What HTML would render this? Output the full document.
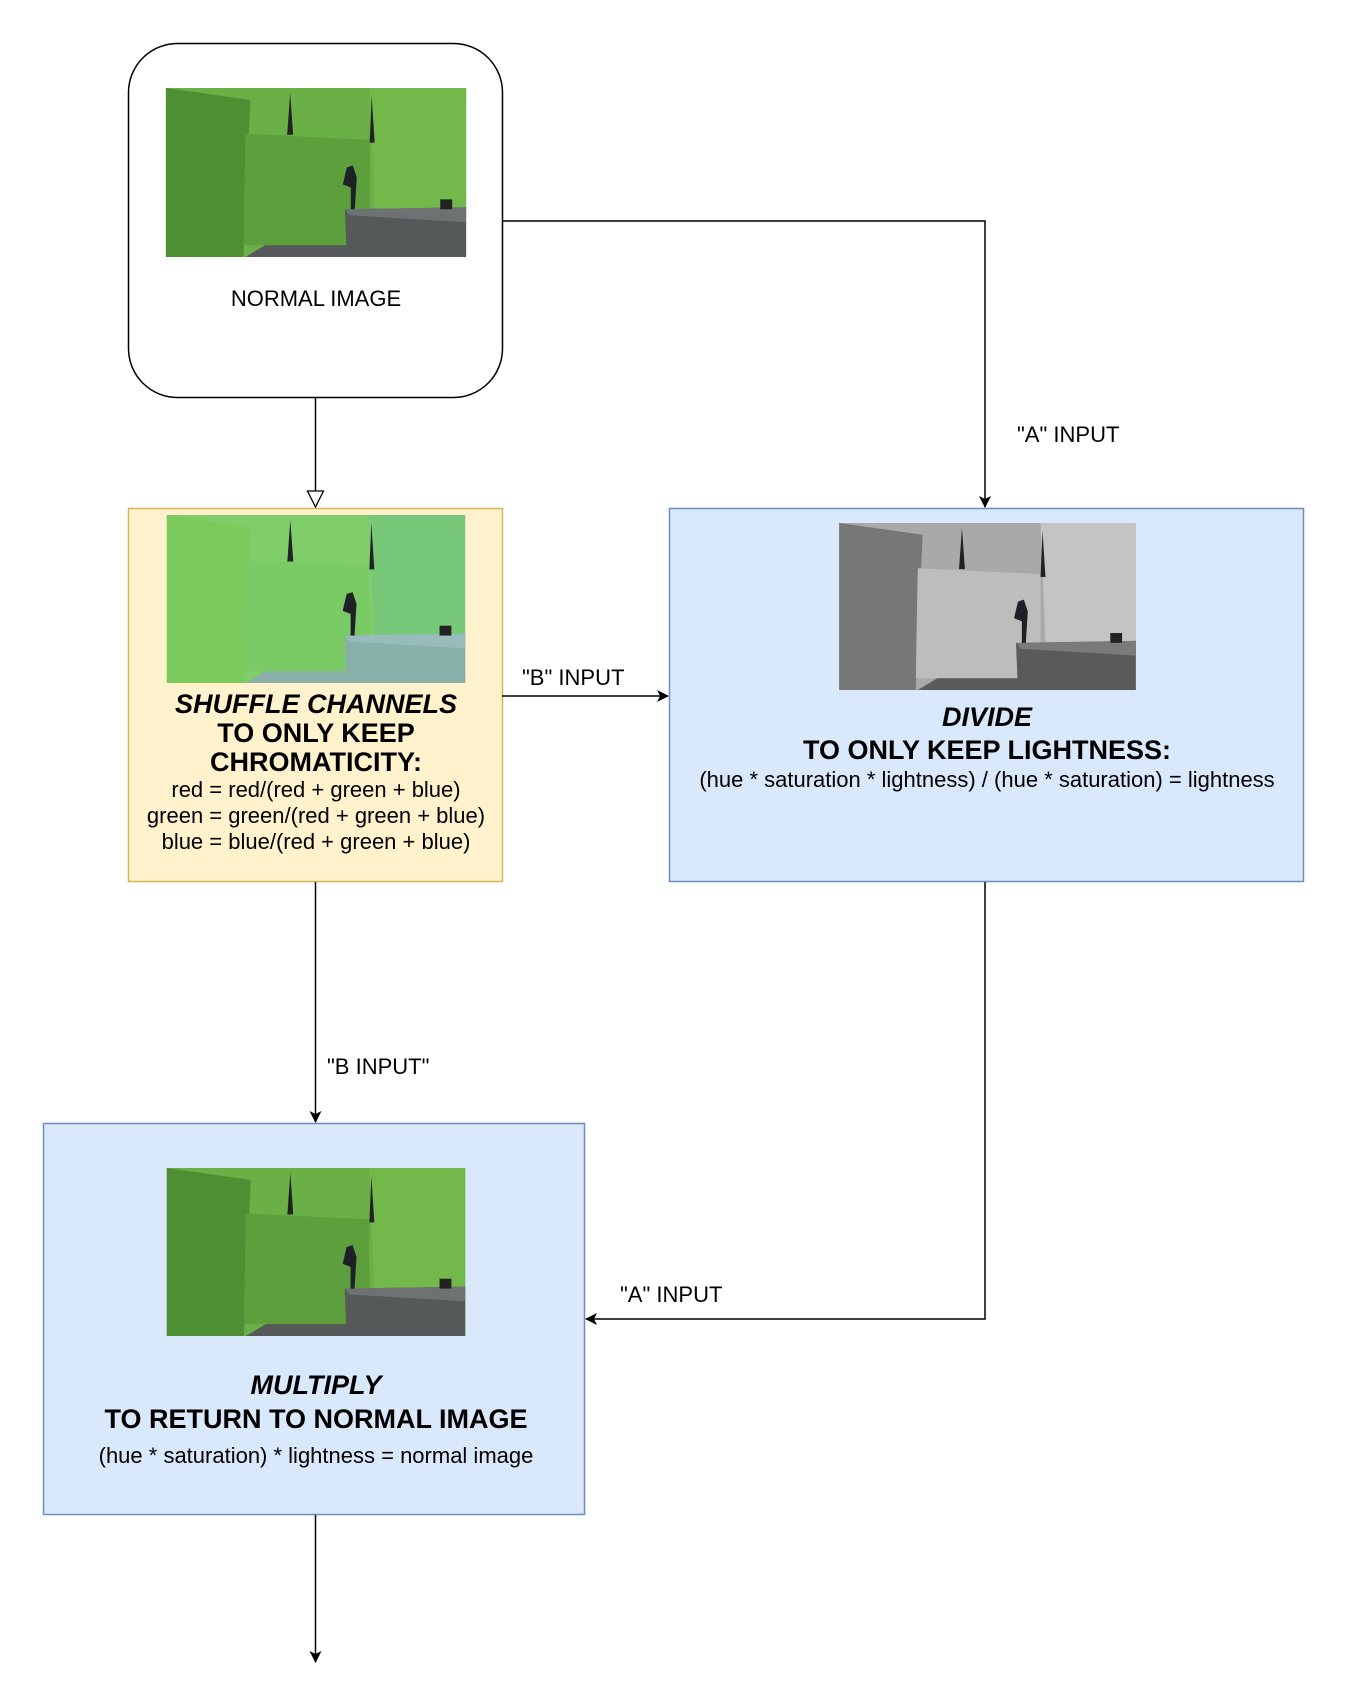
<!DOCTYPE html>
<html><head><meta charset="utf-8"><style>
html,body{margin:0;padding:0;background:#fff;}
svg{display:block;font-family:"Liberation Sans",Arial,sans-serif;}
</style></head><body>
<svg width="1346" height="1695" viewBox="0 0 1346 1695" xmlns="http://www.w3.org/2000/svg">
<defs>
<marker id="ar" markerWidth="14" markerHeight="14" refX="12" refY="7" orient="auto" markerUnits="userSpaceOnUse">
<path d="M1,1 L13,7 L1,13 L4,7 Z" fill="#000"/></marker>
<marker id="hol" markerWidth="20" markerHeight="20" refX="17" refY="9" orient="auto" markerUnits="userSpaceOnUse">
<path d="M1,1 L17,9 L1,17 Z" fill="#fff" stroke="#000" stroke-width="1.3"/></marker>
<symbol id="photo" viewBox="0 0 302 170">
<rect width="302" height="170" style="fill:var(--bg)"/>
<path d="M0,0 L85,12 L78,170 L0,170 Z" style="fill:var(--l)"/>
<path d="M80,46 L205,52 L205,158 L78,158 Z" style="fill:var(--c)"/>
<path d="M205,0 L302,0 L302,122 L210,122 Z" style="fill:var(--r)"/>
<path d="M122,47 L125,5 L128,47 Z" fill="#222"/>
<path d="M205,55 L207,8 L210,55 Z" fill="#222"/>
<path d="M180,122 L302,120 L302,170 L182,170 Z" style="fill:var(--ledge)"/>
<path d="M180,122 L302,120 L302,135 L185,128 Z" style="fill:var(--top)"/>
<path d="M100,158 L190,158 L188,170 L80,170 Z" style="fill:var(--ledge)"/>
<path d="M182,80 L188,78 L192,90 L190,122 L186,122 L186,100 L178,97 Z" fill="#1e2228"/>
<rect x="276" y="112" width="12" height="10" fill="#222"/>
</symbol>
</defs>

<rect x="128.5" y="43.5" width="374" height="354" rx="49" fill="#fff" stroke="#000" stroke-width="1.5"/>
<use href="#photo" x="165" y="88" width="302" height="169" style="--bg:#6bb046;--l:#4f8f33;--c:#5c9f3c;--r:#72b84a;--ledge:#56595a;--top:#6e7272"/>
<text x="316" y="306" font-size="22" text-anchor="middle">NORMAL IMAGE</text>

<rect x="128.5" y="508.5" width="374" height="373" fill="#fff2cc" stroke="#d6b656" stroke-width="1.5"/>
<use href="#photo" x="165" y="515" width="302" height="168" style="--bg:#7fce6a;--l:#7acb5c;--c:#7acb66;--r:#78c87a;--ledge:#88b0a8;--top:#98bcbc"/>
<g font-size="27" font-weight="bold" text-anchor="middle">
<text x="316" y="713" font-style="italic">SHUFFLE CHANNELS</text>
<text x="316" y="742">TO ONLY KEEP</text>
<text x="316" y="771">CHROMATICITY:</text>
</g>
<g font-size="22" text-anchor="middle">
<text x="316" y="797">red = red/(red + green + blue)</text>
<text x="316" y="823">green = green/(red + green + blue)</text>
<text x="316" y="849">blue = blue/(red + green + blue)</text>
</g>

<rect x="669.5" y="508.5" width="634" height="373" fill="#dae8fc" stroke="#6c8ebf" stroke-width="1.5"/>
<use href="#photo" x="837" y="523" width="301" height="167" style="--bg:#a9a9a9;--l:#777;--c:#bdbdbd;--r:#c4c4c4;--ledge:#5a5a5a;--top:#7a7a7a"/>
<text x="987" y="726" font-size="27" font-weight="bold" font-style="italic" text-anchor="middle">DIVIDE</text>
<text x="987" y="759" font-size="27" font-weight="bold" text-anchor="middle">TO ONLY KEEP LIGHTNESS:</text>
<text x="987" y="787" font-size="22" text-anchor="middle">(hue * saturation * lightness) / (hue * saturation) = lightness</text>

<rect x="43.5" y="1123.5" width="541" height="391" fill="#dae8fc" stroke="#6c8ebf" stroke-width="1.5"/>
<use href="#photo" x="165" y="1168" width="302" height="168" style="--bg:#6bb046;--l:#4f8f33;--c:#5c9f3c;--r:#72b84a;--ledge:#56595a;--top:#6e7272"/>
<text x="316" y="1394" font-size="27" font-weight="bold" font-style="italic" text-anchor="middle">MULTIPLY</text>
<text x="316" y="1428" font-size="27" font-weight="bold" text-anchor="middle">TO RETURN TO NORMAL IMAGE</text>
<text x="316" y="1463" font-size="22" text-anchor="middle">(hue * saturation) * lightness = normal image</text>

<g fill="none" stroke="#000" stroke-width="1.5">
<path d="M502,221 L985,221 L985,507" marker-end="url(#ar)"/>
<path d="M315.5,398 L315.5,507" marker-end="url(#hol)"/>
<path d="M502,696 L668,696" marker-end="url(#ar)"/>
<path d="M315.5,882 L315.5,1122" marker-end="url(#ar)"/>
<path d="M985,882 L985,1319 L586,1319" marker-end="url(#ar)"/>
<path d="M315.5,1515 L315.5,1662" marker-end="url(#ar)"/>
</g>
<g font-size="22">
<text x="1017" y="442">"A" INPUT</text>
<text x="522" y="685">"B" INPUT</text>
<text x="327" y="1074">"B INPUT"</text>
<text x="620" y="1302">"A" INPUT</text>
</g>
</svg>
</body></html>
